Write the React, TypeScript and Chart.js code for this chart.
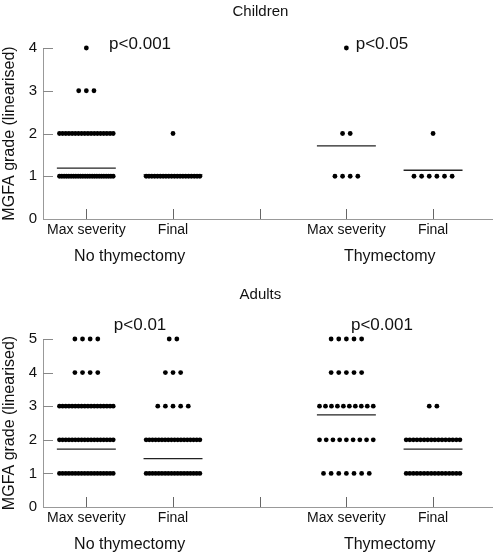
import React, { useEffect, useRef } from 'react';
import { Chart, registerables } from 'chart.js';

Chart.register(...registerables);

// ---- data ----
const categories = ['Max severity', 'Final', '', 'Max severity', 'Final'];
const categoryPositions = [1, 2, 3, 4, 5];
const groupLabels = ['No thymectomy', 'Thymectomy'];
const groupCenters = [1.5, 4.5];
const columnCenters = [1, 2, 4, 5];

// number of patients at MGFA grade 0, 1, 2, 3, 4, 5
const childrenNoThymMax = [0, 24, 18, 3, 1];
const childrenNoThymFinal = [0, 20, 1, 0, 0];
const childrenThymMax = [0, 4, 2, 0, 1];
const childrenThymFinal = [0, 6, 1, 0, 0];
const childrenMeans = [1.19, 1.03, 1.71, 1.14];
const childrenPValues = ['p<0.001', 'p<0.05'];

const adultsNoThymMax = [0, 18, 18, 18, 4, 4];
const adultsNoThymFinal = [0, 18, 18, 5, 3, 2];
const adultsThymMax = [0, 7, 9, 10, 5, 5];
const adultsThymFinal = [0, 16, 16, 2, 0, 0];
const adultsMeans = [1.72, 1.44, 2.74, 1.72];
const adultsPValues = ['p<0.01', 'p<0.001'];

const pValueX = [1.62, 4.41];

const FONT = "'Liberation Sans', Arial, sans-serif";
const TEXT = '#111';

function rowPoints(center: number, counts: number[]) {
  const pts: { x: number; y: number }[] = [];
  counts.forEach((n, grade) => {
    if (!n) return;
    const step = n > 1 ? Math.min(0.088, 0.62 / (n - 1)) : 0;
    for (let i = 0; i < n; i++) {
      pts.push({ x: center + (i - (n - 1) / 2) * step, y: grade });
    }
  });
  return pts;
}

type PanelProps = {
  title: string;
  titleY: number;
  columns: number[][];
  means: number[];
  pValues: string[];
  pValueY: number;
  yMax: number;
  padTop: number;
  xAxisHeight: number;
  height: number;
  top: number;
};

function Panel(p: PanelProps) {
  const ref = useRef<HTMLCanvasElement | null>(null);
  useEffect(() => {
    if (!ref.current) return;
    const points = p.columns.flatMap((c, i) => rowPoints(columnCenters[i], c));
    const meanSets = p.means.map((m, i) => ({
      type: 'line' as const,
      data: [
        { x: columnCenters[i] - 0.34, y: m },
        { x: columnCenters[i] + 0.34, y: m },
      ],
      borderColor: '#222',
      borderWidth: 1.3,
      pointRadius: 0,
      clip: false as any,
      order: 2,
    }));
    const decor = {
      id: 'decor',
      beforeDatasetsDraw(chart: any) {
        const { ctx, chartArea, scales } = chart;
        const x = scales.x, y = scales.y;
        ctx.save();
        ctx.lineWidth = 1;
        ctx.strokeStyle = '#888';
        for (let v = 1; v <= p.yMax; v++) {
          const py = Math.round(y.getPixelForValue(v)) + 0.5;
          ctx.beginPath();
          ctx.moveTo(chartArea.left, py);
          ctx.lineTo(chartArea.left + 10, py);
          ctx.stroke();
        }
        ctx.strokeStyle = '#666';
        categoryPositions.forEach((v) => {
          const px = Math.round(x.getPixelForValue(v)) + 0.5;
          ctx.beginPath();
          ctx.moveTo(px, chartArea.bottom);
          ctx.lineTo(px, chartArea.bottom - 10);
          ctx.stroke();
        });
        ctx.restore();
      },
      afterDraw(chart: any) {
        const { ctx, chartArea, scales } = chart;
        const x = scales.x, y = scales.y;
        ctx.save();
        ctx.fillStyle = TEXT;
        ctx.textAlign = 'center';
        ctx.textBaseline = 'middle';
        ctx.font = `15px ${FONT}`;
        ctx.fillText(p.title, chart.width * 0.525, p.titleY);
        ctx.font = `17px ${FONT}`;
        p.pValues.forEach((t, i) => {
          ctx.fillText(t, x.getPixelForValue(pValueX[i]), y.getPixelForValue(p.pValueY));
        });
        ctx.font = `16px ${FONT}`;
        groupLabels.forEach((t, i) => {
          ctx.fillText(t, x.getPixelForValue(groupCenters[i]), chartArea.bottom + 38);
        });
        ctx.restore();
      },
    };
    const chart = new Chart(ref.current, {
      type: 'scatter',
      data: {
        datasets: [
          {
            type: 'scatter',
            data: points,
            backgroundColor: '#000',
            borderColor: '#000',
            borderWidth: 0,
            pointRadius: 2.4,
            clip: false as any,
            order: 1,
          } as any,
          ...meanSets,
        ],
      },
      options: {
        animation: false,
        responsive: false,
        layout: { padding: { top: p.padTop, right: 0, left: 0, bottom: 0 } },
        plugins: { legend: { display: false }, tooltip: { enabled: false }, title: { display: false } },
        scales: {
          x: {
            type: 'linear',
            min: 0.5,
            max: 5.68,
            grid: { display: false, drawTicks: false },
            border: { display: true, color: '#999', width: 1 },
            afterBuildTicks: (s: any) => {
              s.ticks = categoryPositions.map((v) => ({ value: v }));
            },
            afterFit: (s: any) => {
              s.height = p.xAxisHeight;
            },
            ticks: {
              autoSkip: false,
              maxRotation: 0,
              padding: 3,
              color: TEXT,
              font: { family: FONT, size: 14 },
              callback: (v: any) => categories[categoryPositions.indexOf(Number(v))] ?? '',
            },
          },
          y: {
            type: 'linear',
            min: 0,
            max: p.yMax,
            grid: { display: false, drawTicks: false },
            border: { display: true, color: '#999', width: 1 },
            afterFit: (s: any) => {
              s.width = 43;
            },
            ticks: {
              stepSize: 1,
              padding: 6,
              color: TEXT,
              font: { family: FONT, size: 15 },
            },
            title: {
              display: true,
              text: 'MGFA grade (linearised)',
              color: TEXT,
              font: { family: FONT, size: 16 },
              padding: { top: 0, bottom: 0 },
            },
          },
        },
      },
      plugins: [decor],
    } as any);
    return () => chart.destroy();
  }, []);
  return (
    <canvas
      ref={ref}
      width={496}
      height={p.height}
      style={{ position: 'absolute', left: 0, top: p.top, width: 496, height: p.height, display: 'block' }}
    />
  );
}

export default function App() {
  return (
    <div style={{ position: 'absolute', left: 0, top: 0, width: 496, height: 554, background: '#fff' }}>
      <Panel
        title="Children"
        titleY={12}
        columns={[childrenNoThymMax, childrenNoThymFinal, childrenThymMax, childrenThymFinal]}
        means={childrenMeans}
        pValues={childrenPValues}
        pValueY={4.09}
        yMax={4}
        padTop={48}
        xAxisHeight={58}
        height={277}
        top={0}
      />
      <Panel
        title="Adults"
        titleY={18}
        columns={[adultsNoThymMax, adultsNoThymFinal, adultsThymMax, adultsThymFinal]}
        means={adultsMeans}
        pValues={adultsPValues}
        pValueY={5.42}
        yMax={5}
        padTop={62}
        xAxisHeight={47}
        height={277}
        top={277}
      />
    </div>
  );
}
